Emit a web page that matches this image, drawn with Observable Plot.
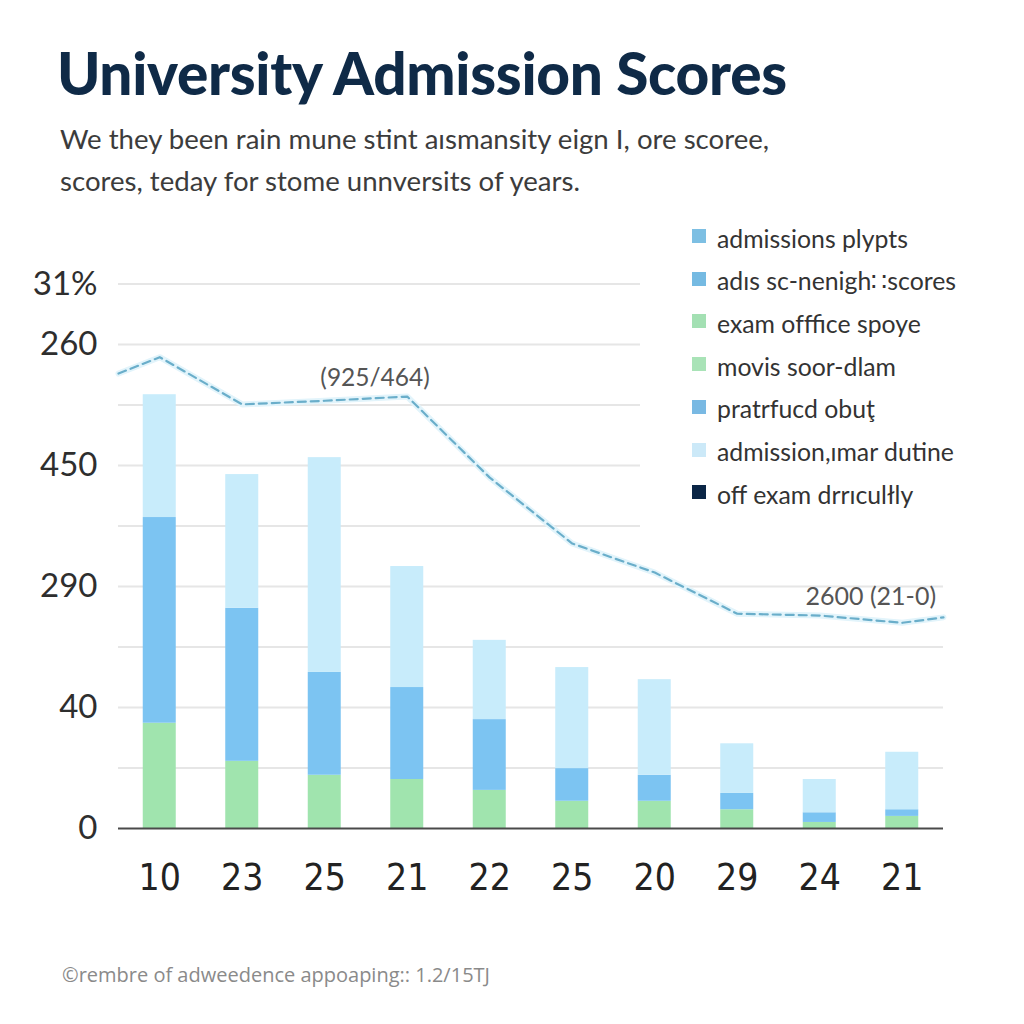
<!DOCTYPE html>
<html>
<head>
<meta charset="utf-8">
<script src="https://cdn.jsdelivr.net/npm/d3@7"></script>
<script src="https://cdn.jsdelivr.net/npm/@observablehq/plot@0.6"></script>
<style>
  html, body { margin: 0; padding: 0; background: #ffffff; }
  #page { position: relative; width: 1024px; height: 1024px; overflow: hidden; font-family: Lato, "Open Sans", sans-serif; }
  #title { position: absolute; left: 57px; top: 37px; font-size: 58.5px; font-weight: 900; color: #0f2a47; letter-spacing: -0.3px; white-space: nowrap; }
  #subtitle { position: absolute; left: 60px; top: 118px; font-size: 27.6px; line-height: 42px; color: #3c3c3c; white-space: nowrap; }
  #chart { position: absolute; left: 0; top: 250px; }
  #legend { position: absolute; left: 640px; top: 215px; width: 384px; height: 312px; background: #ffffff; }
  .item { position: absolute; left: 52px; height: 30px; display: flex; align-items: center; font-size: 24.8px; color: #333; white-space: nowrap; }
  .sw { width: 14px; height: 14px; margin-right: 11px; margin-top: -4px; }
  #caption { position: absolute; left: 62px; top: 961px; font-family: "Open Sans", sans-serif; font-size: 20px; color: #8a8a8a; white-space: nowrap; }
</style>
</head>
<body>
<div id="page">
  <div id="title">University Admission Scores</div>
  <div id="subtitle">We they been rain mune stint aısmansity eign I, ore scoree,<br>scores, teday for stome unnversits of years.</div>
  <div id="chart"></div>
  <div id="legend"></div>
  <div id="caption">©rembre of adweedence appoaping:: 1.2/15TJ</div>
</div>
<script>
// ---- data ----
const xLabels = ["10", "23", "25", "21", "22", "25", "20", "29", "24", "21"];
const greenSeg = [1.74, 1.11, 0.88, 0.81, 0.63, 0.45, 0.45, 0.31, 0.10, 0.20];
const blueSeg  = [3.40, 2.53, 1.70, 1.52, 1.17, 0.54, 0.43, 0.27, 0.16, 0.11];
const lightSeg = [2.03, 2.21, 3.55, 2.00, 1.31, 1.67, 1.58, 0.82, 0.55, 0.95];
const lineX = [-0.5, 0, 1, 2, 3, 4, 5, 6, 7, 8, 9, 9.5];
const lineY = [7.52, 7.79, 7.01, 7.07, 7.14, 5.80, 4.71, 4.23, 3.55, 3.52, 3.40, 3.49];
const yTickValues = [0, 2, 4, 6, 8, 9];
const yTickLabels = ["0", "40", "290", "450", "260", "31%"];
const gridValues = [1, 2, 3, 4, 5, 6, 7, 8, 9];
const annoText = ["(925/464)", "2600 (21-0)"];
const annoX = [2.61, 9.41];
const annoY = [7.44, 3.83];
const legendLabels = ["admissions plypts", "adıs sc-nenigh\u2237scores", "exam offfice spoye", "movis soor-dlam", "pratrfucd obuţ", "admission,ımar dutine", "off exam drrıculłly"];
const legendColors = ["#7dbfe3", "#75bae2", "#a3e0b3", "#a9e3b7", "#79b9e3", "#cce9f8", "#0b2646"];

const colGreen = "#a0e4ae", colBlue = "#7cc4f2", colLight = "#c8ecfb";

// ---- build table ----
const rects = [];
xLabels.forEach((lab, i) => {
  const g = greenSeg[i], b = blueSeg[i], l = lightSeg[i];
  rects.push({i, y1: 0, y2: g, fill: colGreen});
  rects.push({i, y1: g, y2: g + b, fill: colBlue});
  rects.push({i, y1: g + b, y2: g + b + l, fill: colLight});
});
const linePts = lineX.map((x, k) => ({x, y: lineY[k]}));
const annos = annoText.map((t, k) => ({t, x: annoX[k], y: annoY[k]}));

const H = 660;
const chart = Plot.plot({
  width: 1024,
  height: H,
  marginLeft: 118,
  marginRight: 81,
  marginTop: 33.5,
  marginBottom: 82,
  style: {background: "transparent", fontFamily: "Lato, sans-serif", overflow: "visible"},
  x: {type: "linear", domain: [-0.5, 9.5]},
  y: {type: "linear", domain: [0, 9]},
  marks: [
    Plot.ruleY(gridValues, {y: d => d, stroke: "#e6e6e6", strokeWidth: 2}),
    Plot.rect(rects, {x1: d => d.i - 0.2, x2: d => d.i + 0.2, y1: "y1", y2: "y2", fill: "fill"}),
    Plot.ruleY([0], {stroke: "#4a4a4a", strokeWidth: 1.8}),
    Plot.line(linePts, {x: "x", y: "y", stroke: "#e2f4fb", strokeWidth: 6, curve: "linear"}),
    Plot.line(linePts, {x: "x", y: "y", stroke: "#6aaeca", strokeWidth: 2.2, strokeDasharray: "8,5", curve: "linear"}),
    Plot.text(annos.slice(0, 1), {x: "x", y: "y", text: "t", fontSize: 24.5, fill: "#555", textAnchor: "middle", fontFamily: "Lato, sans-serif"}),
    Plot.text(annos.slice(1), {x: "x", y: "y", text: "t", fontSize: 25, fill: "#555", textAnchor: "end", fontFamily: "Lato, sans-serif"}),
    Plot.axisY({ticks: yTickValues, tickFormat: (d) => yTickLabels[yTickValues.indexOf(d)], tickSize: 0, tickPadding: 21, fontSize: 33, fill: "#2e2e2e", label: null}),
    Plot.axisX({ticks: d3.range(xLabels.length), tickFormat: (d) => xLabels[d], tickSize: 0, tickPadding: 35, fontSize: 37, fill: "#222", label: null, fontFamily: "'Liberation Sans Narrow', 'DejaVu Sans Condensed', sans-serif"})
  ]
});
document.getElementById("chart").appendChild(chart);

// ---- legend ----
const legend = document.getElementById("legend");
legendLabels.forEach((lab, k) => {
  const it = document.createElement("div");
  it.className = "item";
  it.style.top = (8 + k * 42.7) + "px";
  const sw = document.createElement("div");
  sw.className = "sw";
  sw.style.background = legendColors[k];
  const tx = document.createElement("span");
  tx.textContent = lab;
  it.appendChild(sw);
  it.appendChild(tx);
  legend.appendChild(it);
});
</script>
</body>
</html>
